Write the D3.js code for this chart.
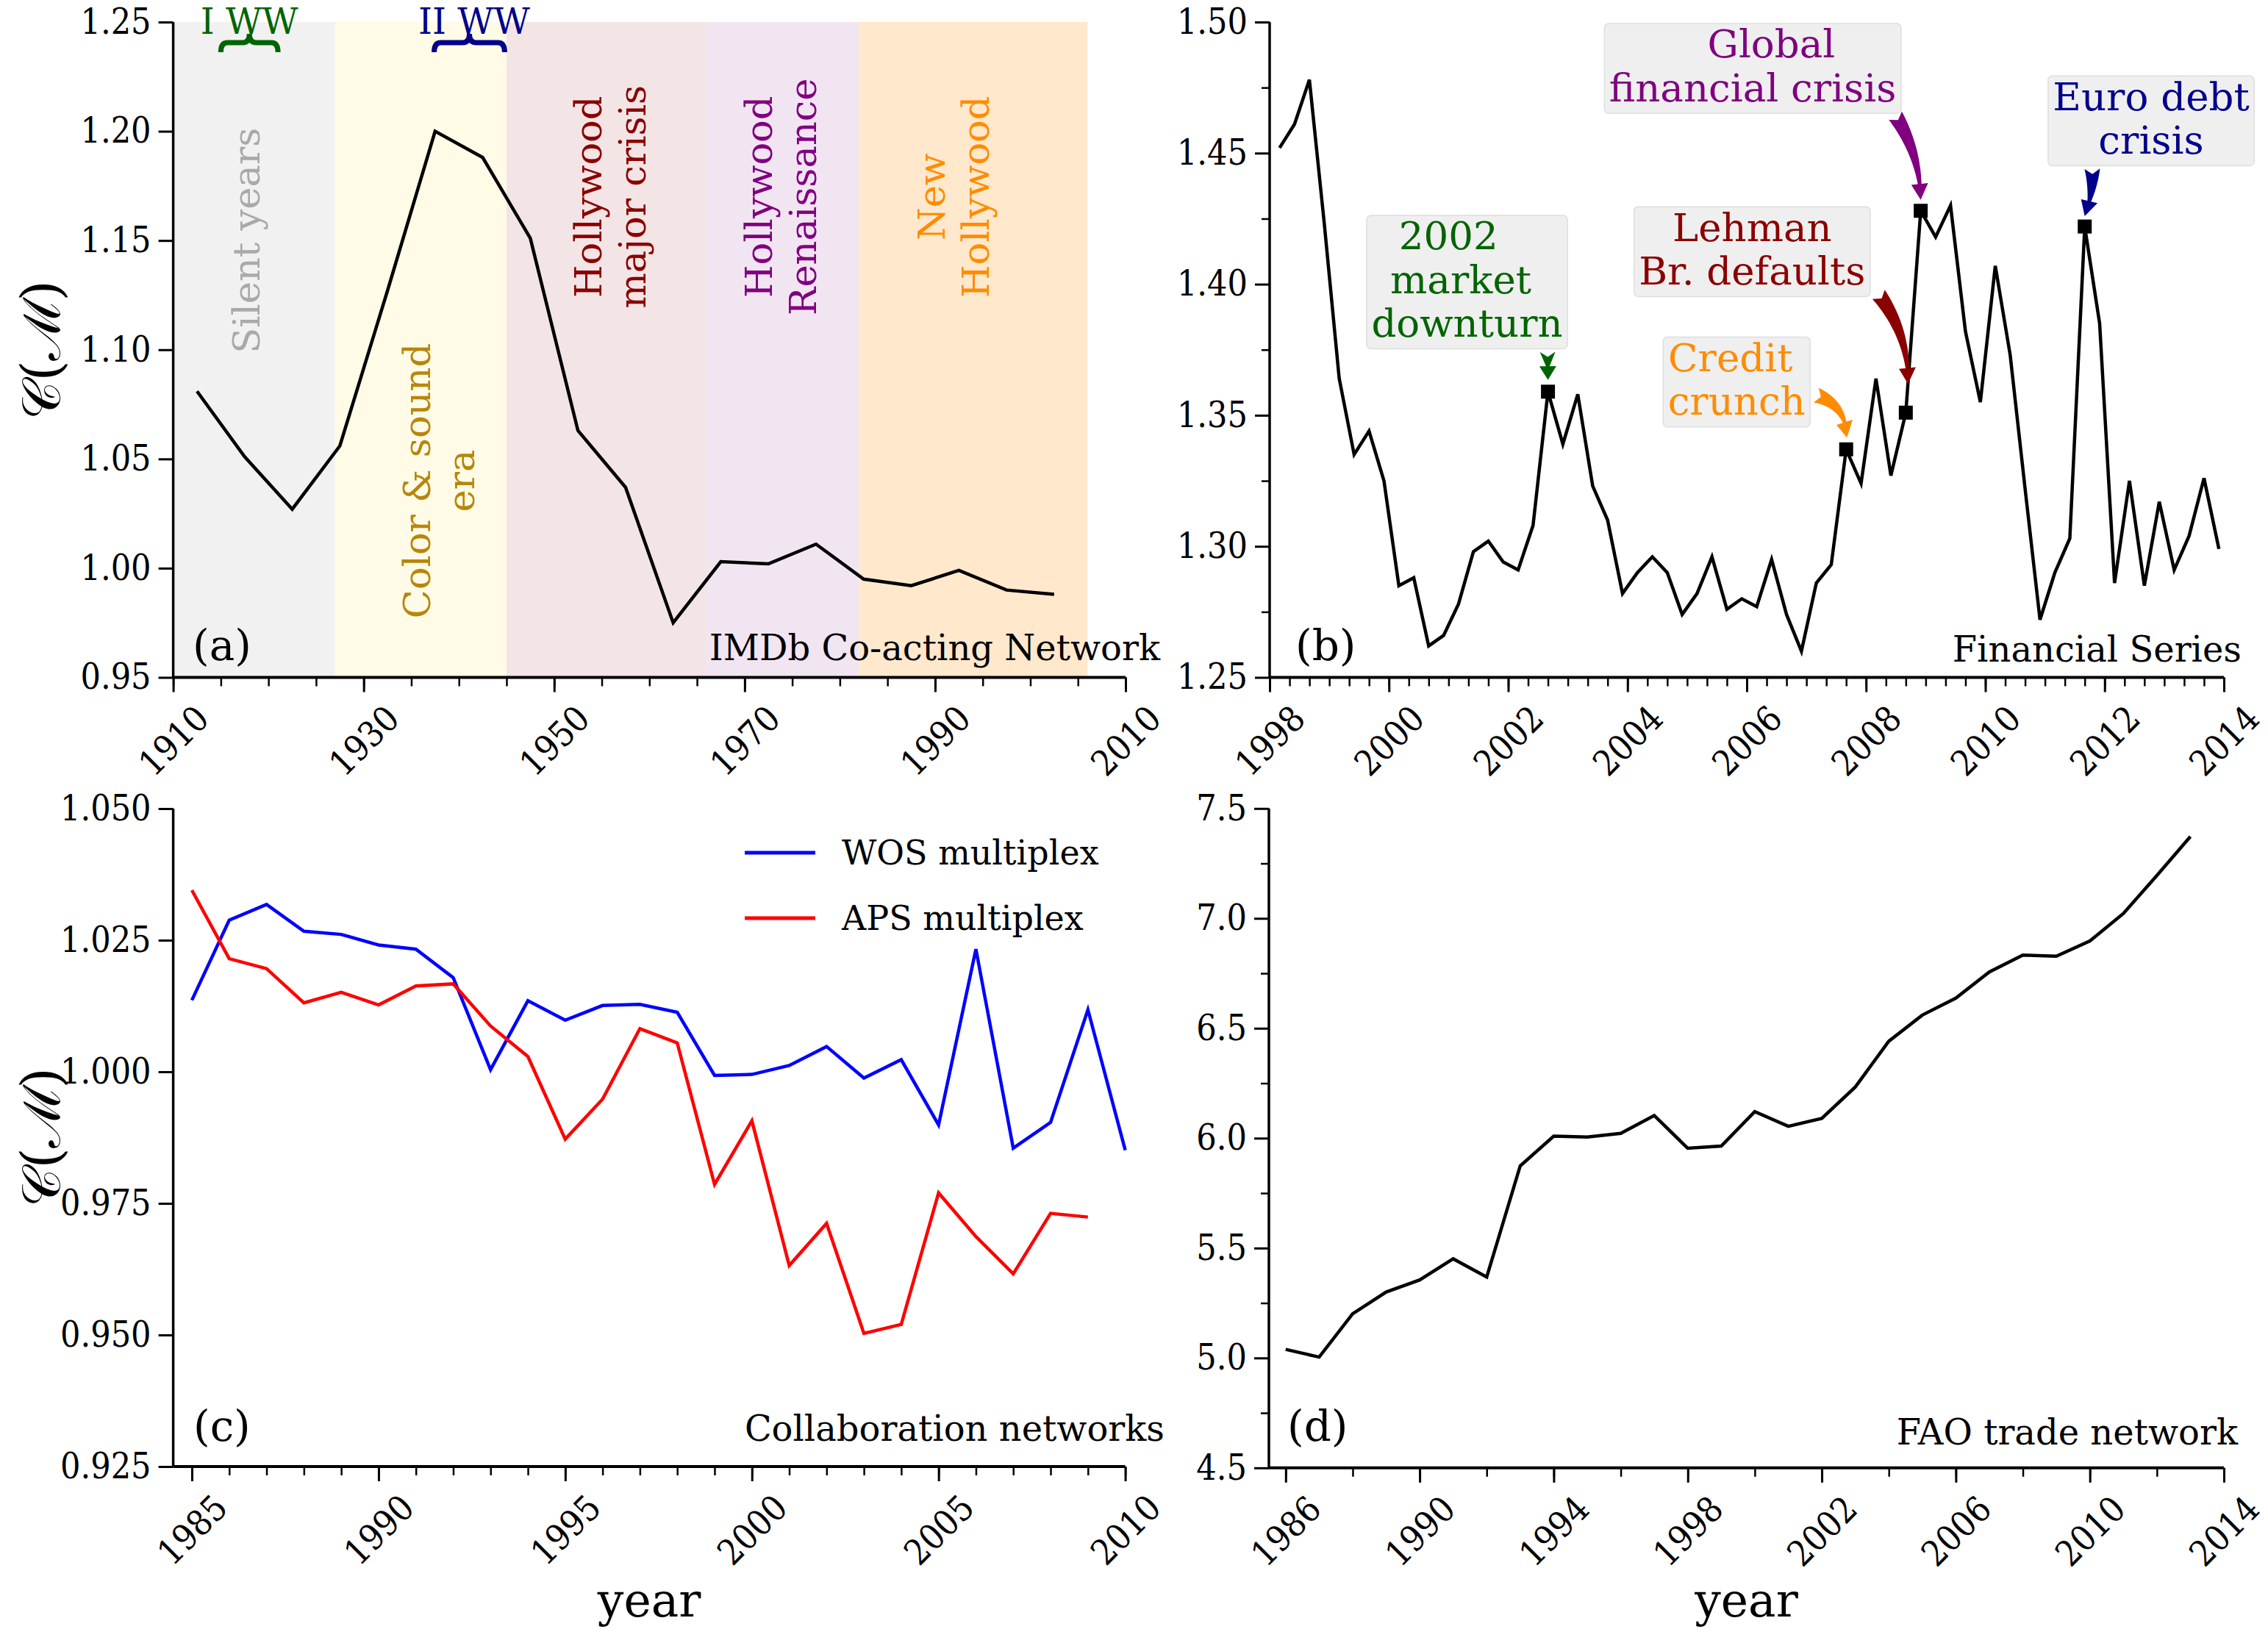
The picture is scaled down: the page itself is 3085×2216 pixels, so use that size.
<!DOCTYPE html>
<html><head><meta charset="utf-8">
<script src="https://cdn.jsdelivr.net/npm/d3@7"></script>
<style>
body{margin:0;background:#fff;}
svg text{font-family:'DejaVu Serif',serif;}
.tick text{font-family:'DejaVu Serif Condensed','DejaVu Serif',serif;font-stretch:condensed;font-size:48px;fill:#000;}
</style></head><body><script>
// ---------------- DATA ----------------
// (a) IMDb co-acting network
const imdbYears  = [1912.5,1917.5,1922.5,1927.5,1932.5,1937.5,1942.5,1947.5,1952.5,1957.5,1962.5,1967.5,1972.5,1977.5,1982.5,1987.5,1992.5,1997.5,2002.5];
const imdbValues = [1.081,1.051,1.027,1.056,1.127,1.200,1.188,1.151,1.063,1.037,0.975,1.003,1.002,1.011,0.995,0.992,0.999,0.990,0.988];
const eraNames = [["Silent years"],["Color & sound","era"],["Hollywood","major crisis"],["Hollywood","Renaissance"],["New","Hollywood"]];
const eraStart = [1910,1927,1945,1966,1982];
const eraEnd   = [1927,1945,1966,1982,2006];
const warNames = ["I WW","II WW"];
const warStart = [1915,1937.4];
const warEnd   = [1921,1944.8];
const imdbYTicks = [0.95,1.00,1.05,1.10,1.15,1.20,1.25];
const imdbXTicks = [1910,1930,1950,1970,1990,2010];

// (b) Financial series, quarterly from March 1998
const finFirstQuarter = 1998 + 2/12;
const finValues = [1.452,1.461,1.478,1.423,1.364,1.335,1.344,1.325,1.285,1.288,
                   1.262,1.266,1.278,1.298,1.302,1.294,1.291,1.308,1.359,1.339,
                   1.358,1.323,1.310,1.282,1.290,1.296,1.290,1.274,1.282,1.296,
                   1.276,1.280,1.277,1.295,1.274,1.260,1.286,1.293,1.337,1.324,
                   1.364,1.327,1.351,1.428,1.418,1.430,1.382,1.355,1.407,1.373,
                   1.322,1.272,1.290,1.303,1.422,1.385,1.286,1.325,1.285,1.317,
                   1.291,1.304,1.326,1.299];
const eventNames   = [["2002   ","market ","downturn"],["Credit ","crunch"],["Lehman","Br. defaults"],["   Global","financial crisis"],["Euro debt","crisis"]];
const eventQuarter = [18,38,42,43,54];
const finYTicks = [1.25,1.30,1.35,1.40,1.45,1.50];
const finXTicks = [1998,2000,2002,2004,2006,2008,2010,2012,2014];

// (c) Collaboration networks
const collabYears = [1985,1986,1987,1988,1989,1990,1991,1992,1993,1994,1995,1996,1997,1998,1999,2000,2001,2002,2003,2004,2005,2006,2007,2008,2009,2010];
const wosValues = [1.0136,1.0288,1.0318,1.0267,1.0261,1.0241,1.0233,1.0179,1.0004,1.0135,1.0098,1.0126,1.0128,1.0113,0.9993,0.9995,1.0012,1.0048,0.9988,1.0023,0.9899,1.0233,0.9855,0.9904,1.0118,0.9851];
const apsValues = [1.0345,1.0215,1.0196,1.0131,1.0151,1.0127,1.0163,1.0167,1.0087,1.0029,0.9872,0.9948,1.0082,1.0055,0.9786,0.9907,0.9632,0.9712,0.9503,0.9520,0.9770,0.9687,0.9616,0.9731,0.9724];
const seriesNames = ["WOS multiplex","APS multiplex"];
const collabYTicks = [0.925,0.950,0.975,1.000,1.025,1.050];
const collabXTicks = [1985,1990,1995,2000,2005,2010];

// (d) FAO trade network
const faoYears  = [1986,1987,1988,1989,1990,1991,1992,1993,1994,1995,1996,1997,1998,1999,2000,2001,2002,2003,2004,2005,2006,2007,2008,2009,2010,2011,2012,2013];
const faoValues = [5.039,5.004,5.201,5.300,5.355,5.451,5.368,5.874,6.009,6.005,6.022,6.103,5.954,5.964,6.121,6.054,6.090,6.233,6.441,6.560,6.637,6.756,6.833,6.828,6.897,7.022,7.195,7.372];
const faoYTicks = [4.5,5.0,5.5,6.0,6.5,7.0,7.5];
const faoXTicks = [1986,1990,1994,1998,2002,2006,2010,2014];

const panelTitles = ["IMDb Co-acting Network","Financial Series","Collaboration networks","FAO trade network"];
const panelLetters = ["(a)","(b)","(c)","(d)"];

// ---------------- LAYOUT / STYLE ----------------
const W=3085,H=2216;
const svg=d3.select('body').append('svg').attr('width',W).attr('height',H);
svg.append('rect').attr('width',W).attr('height',H).attr('fill','#fff');

const PA={x0:235.6,x1:1531,y0:921.5,y1:30,xd:[1910,2010],yd:[0.95,1.25]};
const PB={x0:1727,x1:3025,y0:921.5,y1:30,xd:[1998,2014],yd:[1.25,1.50]};
const PC={x0:235.6,x1:1530.6,y0:1995,y1:1100,xd:[1984.5,2010],yd:[0.925,1.05]};
const PD={x0:1726,x1:3025,y0:1996.8,y1:1099.8,xd:[1985.5,2014],yd:[4.5,7.5]};
function mk(c){return {c,x:d3.scaleLinear().domain(c.xd).range([c.x0,c.x1]),y:d3.scaleLinear().domain(c.yd).range([c.y0,c.y1])};}
const A=mk(PA),B=mk(PB),C=mk(PC),D=mk(PD);

const eraFill=['#f1f1f1','#fffbe6','#f3e5e5','#f2e5f2','#ffe8cc'];
const eraText=['#a9a9a9','#b8860b','#8b0000','#800080','#ff8c00'];
const eraLabelX=[1917.7,1937.9,1955.9,1973.8,1992.0];
const eraLabelY=[1.15,1.04,1.17,1.17,1.17];
const warColor=['#006400','#00008b'];
const warLabelX=[1918,1941.6];
const eventColor=['#006400','#ff8c00','#8b0000','#800080','#00008b'];
const eventBox=[[2001.31,1.4008],[2005.83,1.3627],[2006.09,1.4124],[2006.10,1.4823],[2012.78,1.4623]];
const eventArrowStart=[[2002.661,1.3742],[2007.162,1.3577],[2008.210,1.3961],[2008.491,1.4643],[2011.793,1.4440]];
const eventTipGap=[[0,16],[1,16],[3,39],[0,15],[0,14]];
const eventBend=[0,-0.35,-0.17,-0.14,-0.1];

function axes(P,o){
  const g=svg.append('g');
  const c=P.c;
  if(o.yMinor){
    g.append('g').attr('transform',`translate(${c.x0},0)`)
     .call(d3.axisLeft(P.y).tickValues(o.yMinor).tickSize(11).tickFormat('').tickSizeOuter(0))
     .call(s=>{s.select('.domain').remove();s.selectAll('line').attr('stroke-width',2.5);});
  }
  if(o.xMinor){
    g.append('g').attr('transform',`translate(0,${c.y0})`)
     .call(d3.axisBottom(P.x).tickValues(o.xMinor).tickSize(12).tickFormat('').tickSizeOuter(0))
     .call(s=>{s.select('.domain').remove();s.selectAll('line').attr('stroke-width',2.5);});
  }
  g.append('g').attr('transform',`translate(${c.x0},0)`)
   .call(d3.axisLeft(P.y).tickValues(o.yTicks).tickFormat(d3.format(o.yFmt)).tickSize(20).tickPadding(10).tickSizeOuter(0))
   .call(s=>{s.select('.domain').attr('stroke-width',3.5).attr('d',`M0,${c.y0}V${c.y1}`);s.selectAll('line').attr('stroke-width',3);});
  const xg=g.append('g').attr('transform',`translate(0,${c.y0})`)
   .call(d3.axisBottom(P.x).tickValues(o.xTicks).tickFormat(d3.format('d')).tickSize(20).tickSizeOuter(0))
   .call(s=>{s.select('.domain').attr('stroke-width',4).attr('d',`M${c.x0},0H${c.x1}`);s.selectAll('line').attr('stroke-width',3);});
  xg.selectAll('.tick text').attr('x',0).attr('y',0).attr('dy','0.35em').attr('text-anchor','middle')
    .attr('transform','translate(0,86) rotate(-45)');
}

function line(P,xs,vs,color,w){
  svg.append('path').datum(vs.map((v,i)=>[xs[i],v]))
    .attr('d',d3.line().x(d=>P.x(d[0])).y(d=>P.y(d[1])))
    .attr('fill','none').attr('stroke',color).attr('stroke-width',w).attr('stroke-linejoin','miter');
}

// ---------- Panel (a) ----------
eraStart.forEach((s,i)=>{
  svg.append('rect').attr('x',A.x(s)).attr('y',A.y(1.25)).attr('width',A.x(eraEnd[i])-A.x(s))
    .attr('height',A.y(0.95)-A.y(1.25)).attr('fill',eraFill[i]);
});
eraNames.forEach((lines,i)=>{
  const g=svg.append('g').attr('transform',`translate(${A.x(eraLabelX[i])},${A.y(eraLabelY[i])}) rotate(-90)`);
  const lh=60;
  lines.forEach((t,j)=>{
    g.append('text').attr('x',0).attr('y',(j-(lines.length-1)/2)*lh).attr('text-anchor','middle')
      .attr('dominant-baseline','central').attr('font-size',51).attr('fill',eraText[i]).text(t);
  });
});
warNames.forEach((t,i)=>{
  svg.append('text').attr('x',A.x(warLabelX[i])).attr('y',46).attr('text-anchor','middle')
    .attr('font-size',48).attr('fill',warColor[i]).text(t);
  const x1=A.x(warStart[i]),x2=A.x(warEnd[i]),xm=(x1+x2)/2;
  const yb=58,yt=46,ye=71;
  svg.append('path').attr('d',`M${x1},${ye} Q${x1},${yb} ${x1+9},${yb} L${xm-9},${yb} Q${xm},${yb} ${xm},${yt} Q${xm},${yb} ${xm+9},${yb} L${x2-9},${yb} Q${x2},${yb} ${x2},${ye}`)
    .attr('fill','none').attr('stroke',warColor[i]).attr('stroke-width',7);
});
line(A,imdbYears,imdbValues,'#000',4.5);
axes(A,{yTicks:imdbYTicks,yFmt:'.2f',xTicks:imdbXTicks,xMinor:d3.range(1910,2011,5)});

// ---------- Panel (b) ----------
const finTimes=finValues.map((v,i)=>finFirstQuarter+i/4);
line(B,finTimes,finValues,'#000',4.5);
eventQuarter.forEach(k=>{
  svg.append('rect').attr('x',B.x(finTimes[k])-9.5).attr('y',B.y(finValues[k])-9.5).attr('width',19).attr('height',19).attr('fill','#000');
});
function fancyArrow(S,E,bend,color){
  const dx=E[0]-S[0],dy=E[1]-S[1],L=Math.hypot(dx,dy);
  const nx=-dy/L,ny=dx/L;
  const Cc=[(S[0]+E[0])/2+nx*bend*L,(S[1]+E[1])/2+ny*bend*L];
  const pt=t=>[(1-t)*(1-t)*S[0]+2*(1-t)*t*Cc[0]+t*t*E[0],(1-t)*(1-t)*S[1]+2*(1-t)*t*Cc[1]+t*t*E[1]];
  const tan=t=>{const x=2*(1-t)*(Cc[0]-S[0])+2*t*(E[0]-Cc[0]),y=2*(1-t)*(Cc[1]-S[1])+2*t*(E[1]-Cc[1]);const l=Math.hypot(x,y);return [x/l,y/l];};
  const N=80;let acc=0;const ls=[0];let prev=pt(0);
  for(let i=1;i<=N;i++){const p=pt(i/N);acc+=Math.hypot(p[0]-prev[0],p[1]-prev[1]);ls.push(acc);prev=p;}
  const headLen=Math.min(22,acc*0.5);
  let tH=1;for(let i=0;i<=N;i++){if(ls[i]>=acc-headLen){tH=i/N;break;}}
  const tailW=10.5,neckW=2.5,headW=11.5,M=30;
  const left=[],right=[];
  for(let i=0;i<=M;i++){const t=tH*i/M,p=pt(t),d=tan(t);const w=tailW+(neckW-tailW)*(i/M);
    left.push([p[0]-d[1]*w,p[1]+d[0]*w]);right.push([p[0]+d[1]*w,p[1]-d[0]*w]);}
  const pb=pt(tH),db=tan(tH);
  const head=[[pb[0]-db[1]*headW,pb[1]+db[0]*headW],E,[pb[0]+db[1]*headW,pb[1]-db[0]*headW]];
  const d0=tan(0);const notch=[S[0]+d0[0]*7,S[1]+d0[1]*7];
  const poly=[...left,...head,...right.reverse(),notch];
  svg.append('path').attr('d','M'+poly.map(p=>p[0].toFixed(1)+','+p[1].toFixed(1)).join('L')+'Z').attr('fill',color);
}
eventNames.forEach((lines,i)=>{
  const fs=53,lh=59.3,padX=6.5,padT=6,padB=4;
  const cx=B.x(eventBox[i][0]),cy=B.y(eventBox[i][1]);
  const boxH=(lines.length-1)*lh+fs+padT+padB;
  const top=cy-boxH/2;
  const g=svg.append('g');
  const rect=g.append('rect');
  let maxW=0;
  lines.forEach((t,j)=>{
    const tx=g.append('text').attr('x',cx).attr('y',top+padT+0.76*fs+j*lh).attr('text-anchor','middle')
      .attr('font-size',fs).attr('fill',eventColor[i]).style('white-space','pre').text(t);
    maxW=Math.max(maxW,tx.node().getComputedTextLength());
  });
  rect.attr('x',cx-maxW/2-padX).attr('y',top).attr('width',maxW+2*padX).attr('height',boxH)
    .attr('rx',6).attr('fill','#efefef').attr('stroke','#dedede').attr('stroke-width',1.5);
  const k=eventQuarter[i];
  const S=[B.x(eventArrowStart[i][0]),B.y(eventArrowStart[i][1])];
  const E=[B.x(finTimes[k])+eventTipGap[i][0],B.y(finValues[k])-eventTipGap[i][1]];
  fancyArrow(S,E,eventBend[i],eventColor[i]);
});
axes(B,{yTicks:finYTicks,yFmt:'.2f',yMinor:[1.275,1.325,1.375,1.425,1.475],xTicks:finXTicks,xMinor:d3.range(0,49).map(i=>1998+i/3)});

// ---------- Panel (c) ----------
line(C,collabYears,wosValues,'#0000ff',4.5);
line(C,collabYears.slice(0,apsValues.length),apsValues,'#ff0000',4.5);
axes(C,{yTicks:collabYTicks,yFmt:'.3f',xTicks:collabXTicks,xMinor:d3.range(1985,2011,1)});
const legColors=['#0000ff','#ff0000'];
seriesNames.forEach((n,i)=>{
  const ly=1160+i*89;
  svg.append('line').attr('x1',1013).attr('x2',1109).attr('y1',ly).attr('y2',ly).attr('stroke',legColors[i]).attr('stroke-width',5);
  svg.append('text').attr('x',1145).attr('y',ly).attr('dominant-baseline','central').attr('font-size',46).text(n);
});

// ---------- Panel (d) ----------
line(D,faoYears,faoValues,'#000',4.5);
axes(D,{yTicks:faoYTicks,yFmt:'.1f',yMinor:[4.75,5.25,5.75,6.25,6.75,7.25],xTicks:faoXTicks,xMinor:d3.range(1986,2015,2)});

// ---------- Texts ----------
const letterPos=[[262,898],[1762,898],[263,1960],[1751,1960]];
const titlePos=[[1578,898],[3049,900],[1584,1960],[3044,1965]];
panelLetters.forEach((t,i)=>svg.append('text').attr('x',letterPos[i][0]).attr('y',letterPos[i][1]).attr('font-size',58).text(t));
panelTitles.forEach((t,i)=>svg.append('text').attr('x',titlePos[i][0]).attr('y',titlePos[i][1]).attr('text-anchor','end').attr('font-size',48).text(t));
[[56,476],[56,1547]].forEach(p=>{
  svg.append('text').attr('transform',`translate(${p[0]},${p[1]}) rotate(-90)`).attr('text-anchor','middle')
    .attr('dominant-baseline','central').attr('font-size',72).text('\u{1D49E}(\u2133)');
});
[(PC.x0+PC.x1)/2,(PD.x0+PD.x1)/2].forEach(x=>{
  svg.append('text').attr('x',x).attr('y',2199).attr('text-anchor','middle').attr('font-size',63).text('year');
});
</script></body></html>
